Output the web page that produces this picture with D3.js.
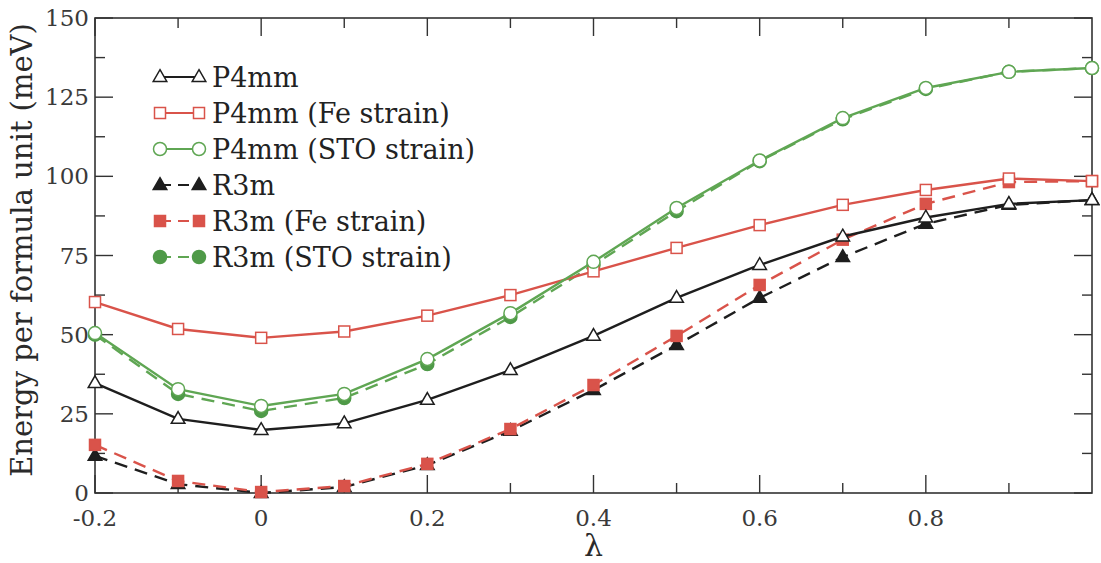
<!DOCTYPE html>
<html>
<head>
<meta charset="utf-8">
<script src="https://cdn.jsdelivr.net/npm/d3@7"></script>
<style>
  body { margin: 0; background: #fff; }
  svg { display: block; }
</style>
</head>
<body>
<svg id="chart" width="1101" height="563"></svg>
<script>
var lambdas = [-0.2, -0.1, 0, 0.1, 0.2, 0.3, 0.4, 0.5, 0.6, 0.7, 0.8, 0.9, 1.0];

var p4mm       = [34.7, 23.4, 19.9, 22.0, 29.4, 38.8, 49.6, 61.6, 72.0, 81.0, 87.0, 91.3, 92.5];
var p4mmFe     = [60.3, 51.8, 49.0, 51.0, 56.0, 62.5, 70.0, 77.4, 84.6, 91.0, 95.7, 99.3, 98.5];
var p4mmSto    = [50.5, 32.8, 27.5, 31.3, 42.3, 56.8, 73.0, 90.0, 105.0, 118.4, 127.9, 133.0, 134.2];
var r3m        = [11.7, 2.8, 0.0, 1.9, 8.8, 19.6, 32.5, 46.7, 61.6, 74.5, 85.0, 91.0, 92.5];
var r3mFe      = [15.2, 3.8, 0.3, 2.2, 9.2, 20.2, 34.1, 49.6, 65.7, 80.0, 91.3, 98.2, 98.5];
var r3mSto     = [50.0, 31.3, 25.9, 30.0, 40.7, 55.6, 72.0, 89.0, 104.8, 118.0, 127.6, 133.0, 134.2];

var seriesNames = ["P4mm", "P4mm (Fe strain)", "P4mm (STO strain)", "R3m", "R3m (Fe strain)", "R3m (STO strain)"];
var xTickLabels = ["-0.2", "0", "0.2", "0.4", "0.6", "0.8"];
var yTickLabels = ["0", "25", "50", "75", "100", "125", "150"];

var BLACK = "#1e1e1e", RED = "#d9534a", GREEN = "#5fa653", GREEN_FILL = "#4f9a48";
// Liberation Serif falls back to a sans face here, DejaVu Serif does not
var FONT = "'DejaVu Serif', serif";

var series = [
  {name: seriesNames[0], values: p4mm,    color: BLACK, shape: "tri",  filled: false, dashed: false},
  {name: seriesNames[1], values: p4mmFe,  color: RED,   shape: "sq",   filled: false, dashed: false},
  {name: seriesNames[2], values: p4mmSto, color: GREEN, shape: "circ", filled: false, dashed: false},
  {name: seriesNames[3], values: r3m,     color: BLACK, shape: "tri",  filled: true,  dashed: true},
  {name: seriesNames[4], values: r3mFe,   color: RED,   shape: "sq",   filled: true,  dashed: true},
  {name: seriesNames[5], values: r3mSto,  color: GREEN, shape: "circ", filled: true,  dashed: true}
];

var svg = d3.select("#chart").style("font-family", FONT);
var plotL = 95, plotR = 1092, plotT = 18, plotB = 493;

var x = d3.scaleLinear().domain([-0.2, 1.0]).range([plotL, plotR]);
var y = d3.scaleLinear().domain([0, 150]).range([plotB, plotT]);

var axisColor = "#333";

// frame
svg.append("rect")
  .attr("x", plotL).attr("y", plotT)
  .attr("width", plotR - plotL).attr("height", plotB - plotT)
  .attr("fill", "none").attr("stroke", axisColor).attr("stroke-width", 1.6);

// ticks (inward, on all four sides)
var xMajor = xTickLabels.map(Number);
var xMinor = d3.range(-1, 10, 2).map(d => d / 10);
var yMajor = yTickLabels.map(Number);
var yMinor = d3.range(12.5, 150, 25);

function ticks(g, vals, len, isX) {
  vals.forEach(function(v) {
    if (isX) {
      g.append("line").attr("x1", x(v)).attr("x2", x(v)).attr("y1", plotB).attr("y2", plotB - len);
      g.append("line").attr("x1", x(v)).attr("x2", x(v)).attr("y1", plotT).attr("y2", plotT + len);
    } else {
      g.append("line").attr("y1", y(v)).attr("y2", y(v)).attr("x1", plotL).attr("x2", plotL + len);
      g.append("line").attr("y1", y(v)).attr("y2", y(v)).attr("x1", plotR).attr("x2", plotR - len);
    }
  });
}
var tg = svg.append("g").attr("stroke", axisColor).attr("stroke-width", 1.4);
ticks(tg, xMajor, 18, true);
ticks(tg, xMinor, 10, true);
ticks(tg, yMajor, 18, false);
ticks(tg, yMinor, 10, false);

// tick labels
svg.append("g").selectAll("text").data(xTickLabels).enter().append("text")
  .attr("x", d => x(+d)).attr("y", 526)
  .attr("text-anchor", "middle").attr("font-size", 23).attr("fill", "#3a3a3a")
  .text(d => d);
svg.append("g").selectAll("text").data(yTickLabels).enter().append("text")
  .attr("x", 89).attr("y", d => y(+d) + 8)
  .attr("text-anchor", "end").attr("font-size", 23).attr("fill", "#3a3a3a")
  .text(d => d);

// axis titles
svg.append("text")
  .attr("transform", "translate(32,250) rotate(-90)")
  .attr("text-anchor", "middle").attr("font-size", 29).attr("fill", "#2a2a2a")
  .text("Energy per formula unit (meV)");
svg.append("text")
  .attr("x", (plotL + plotR) / 2).attr("y", 556)
  .attr("text-anchor", "middle").attr("font-size", 30).attr("fill", "#2a2a2a")
  .text("λ");

// markers
function drawMarker(g, s, cx, cy) {
  var fill = s.filled ? (s.shape === "circ" ? GREEN_FILL : s.color) : "#fff";
  var m;
  if (s.shape === "tri") {
    m = g.append("path").attr("d", d3.symbol(d3.symbolTriangle, 80)())
      .attr("transform", "translate(" + cx + "," + (cy + 0.5) + ")");
  } else if (s.shape === "sq") {
    m = g.append("rect").attr("x", cx - 5.5).attr("y", cy - 5.5).attr("width", 11).attr("height", 11);
  } else {
    m = g.append("circle").attr("cx", cx).attr("cy", cy).attr("r", 6.5);
  }
  m.attr("fill", fill).attr("stroke", s.filled ? fill : s.color).attr("stroke-width", 1.5);
}

var line = d3.line().x((d, i) => x(lambdas[i])).y(d => y(d));

// dashed R3m first, solid P4mm on top
var order = [3, 4, 5, 0, 1, 2];
order.forEach(function(k) {
  var s = series[k];
  var g = svg.append("g");
  g.append("path").datum(s.values)
    .attr("d", line)
    .attr("fill", "none")
    .attr("stroke", s.color)
    .attr("stroke-width", 2.4)
    .attr("stroke-dasharray", s.dashed ? "13,8" : null);
  s.values.forEach(function(v, i) { drawMarker(g, s, x(lambdas[i]), y(v)); });
});

// legend
var legend = svg.append("g");
series.forEach(function(s, i) {
  var ly = 77 + i * 36;
  var row = legend.append("g");
  row.append("line").attr("x1", 160).attr("x2", 199).attr("y1", ly).attr("y2", ly)
    .attr("stroke", s.color).attr("stroke-width", 2.2)
    .attr("stroke-dasharray", s.dashed ? "11,7" : null);
  drawMarker(row, s, 160, ly);
  drawMarker(row, s, 199, ly);
  row.append("text").attr("x", 212).attr("y", ly + 10)
    .attr("font-size", 27).attr("fill", "#222")
    .text(s.name);
});
</script>
</body>
</html>
